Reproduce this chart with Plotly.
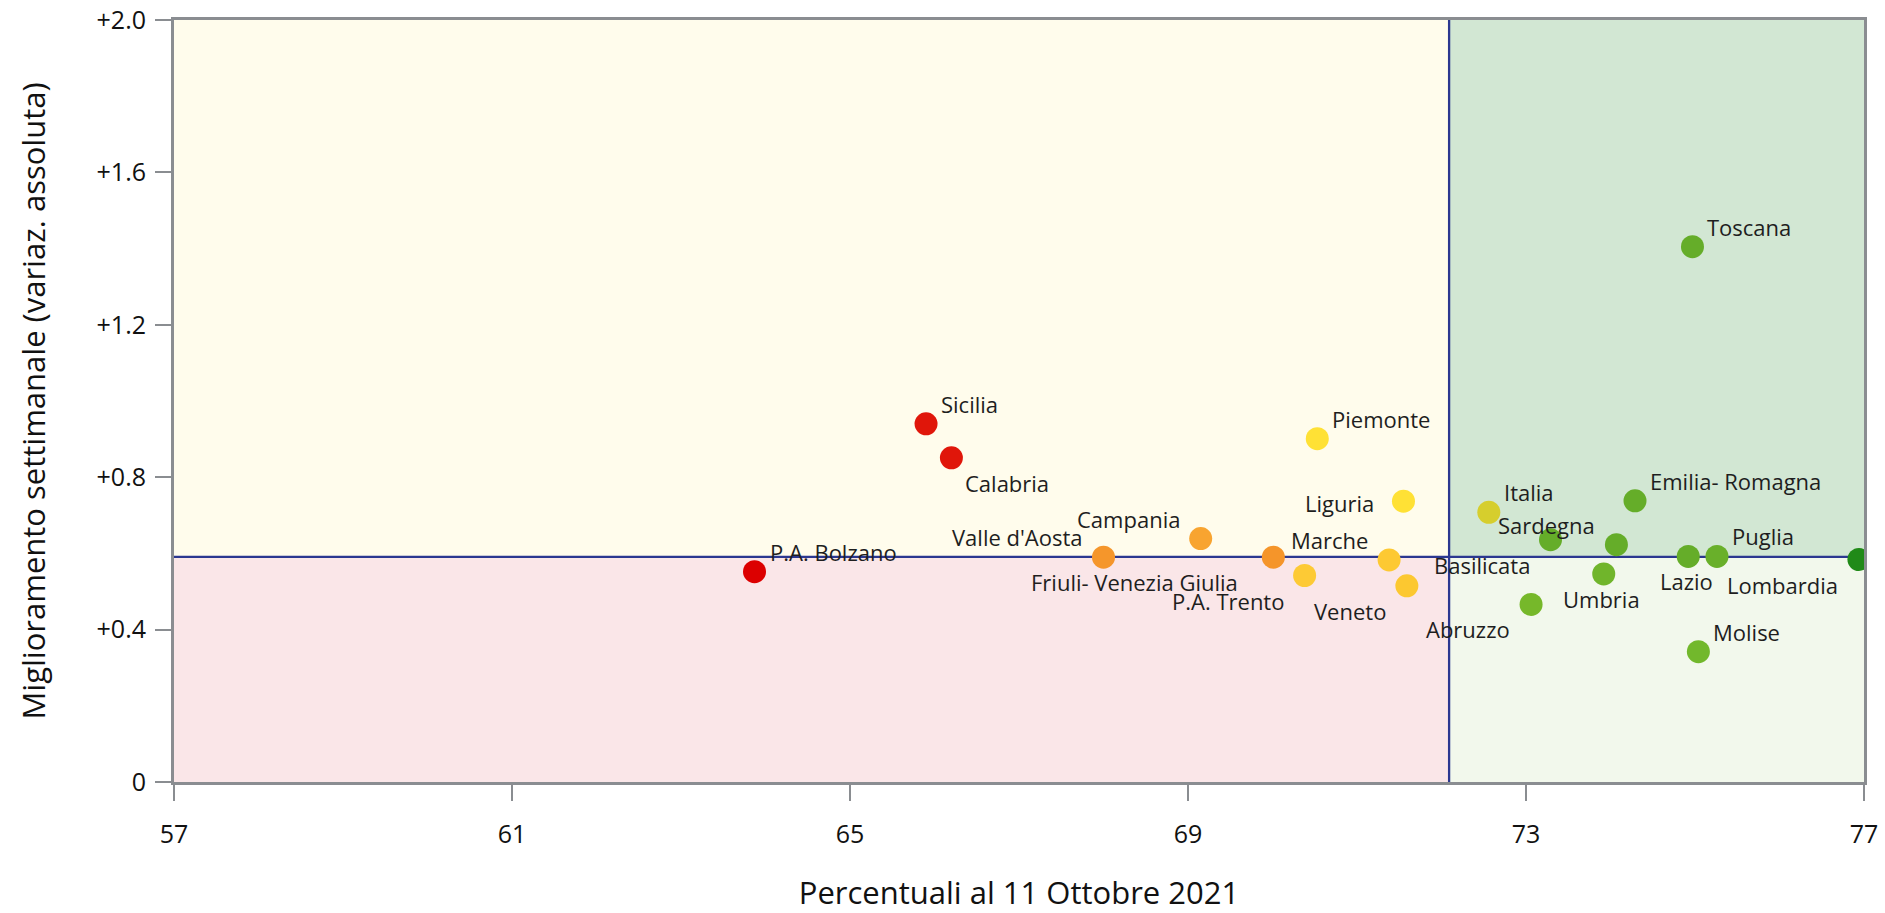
import plotly.graph_objects as go

# ---- data ----
regioni = ["P.A. Bolzano", "Sicilia", "Calabria", "Valle d'Aosta", "Campania",
           "Friuli- Venezia Giulia", "P.A. Trento", "Piemonte", "Marche", "Liguria",
           "Veneto", "Italia", "Abruzzo", "Basilicata", "Umbria", "Sardegna",
           "Emilia- Romagna", "Lazio", "Puglia", "Toscana", "Molise", "Lombardia"]
percentuali = [63.87, 65.90, 66.20, 68.00, 69.15, 70.01, 70.38, 70.53, 71.38, 71.55,
               71.59, 72.56, 73.06, 73.29, 73.92, 74.07, 74.29, 74.92, 75.26, 74.97,
               75.04, 76.94]
miglioramento = [0.552, 0.940, 0.851, 0.590, 0.639, 0.590, 0.542, 0.901, 0.583, 0.737,
                 0.515, 0.708, 0.466, 0.636, 0.546, 0.623, 0.738, 0.592, 0.592, 1.405,
                 0.342, 0.584]
colori = ["#DC0000", "#E0160A", "#E0160A", "#F5962B", "#F8A430", "#F5952A", "#FDCA35",
          "#FFE135", "#FDC932", "#FFE135", "#FCC830", "#D6CE2D", "#76B82A", "#65AD29",
          "#70B52B", "#65AD29", "#65AD29", "#65AD29", "#69B02A", "#65AD29", "#72B82C",
          "#208A18"]
posizioni = ["top right", "top right", "bottom right", "top left", "top left",
             "bottom left", "bottom left", "top right", "top left", "middle left",
             "bottom left", "top right", "bottom left", "bottom left", "bottom center",
             "top left", "top right", "bottom center", "top right", "top right",
             "top right", "bottom left"]

x_ticks = [57, 61, 65, 69, 73, 77]
y_ticks = [0, 0.4, 0.8, 1.2, 1.6, 2.0]
y_tick_labels = ["0", "+0.4", "+0.8", "+1.2", "+1.6", "+2.0"]
x_range = [57, 77]
y_range = [0, 2.0]
soglia_x = 72.09
soglia_y = 0.591

FONT = "Open Sans"

# label placement style (pixel offsets from the marker centre)
stile_etichetta = {
    "top right":     dict(xanchor="left",   xshift=13,  yshift=20),
    "top left":      dict(xanchor="right",  xshift=-19, yshift=20),
    "bottom right":  dict(xanchor="left",   xshift=12,  yshift=-25),
    "bottom left":   dict(xanchor="right",  xshift=-19, yshift=-25),
    "bottom center": dict(xanchor="center", xshift=-2,  yshift=-25),
    "middle left":   dict(xanchor="right",  xshift=-27, yshift=-2),
}
spostamento_extra = {"Friuli- Venezia Giulia": -14}

fig = go.Figure()

# quadrants
quadranti = [
    (x_range[0], soglia_x, soglia_y, y_range[1], "#FFFCEC"),
    (x_range[0], soglia_x, y_range[0], soglia_y, "#FAE6E8"),
    (soglia_x, x_range[1], soglia_y, y_range[1], "#D2E7D3"),
    (soglia_x, x_range[1], y_range[0], soglia_y, "#F2F8EC"),
]
for x0, x1, y0, y1, c in quadranti:
    fig.add_shape(type="rect", xref="x", yref="y", x0=x0, x1=x1, y0=y0, y1=y1,
                  fillcolor=c, line=dict(width=0), layer="below")

fig.add_shape(type="line", xref="x", yref="y", x0=soglia_x, x1=soglia_x,
              y0=y_range[0], y1=y_range[1], line=dict(color="#2B3790", width=2.3),
              layer="below")
fig.add_shape(type="line", xref="x", yref="y", x0=x_range[0], x1=x_range[1],
              y0=soglia_y, y1=soglia_y, line=dict(color="#2B3790", width=2.3),
              layer="below")

fig.add_trace(go.Scatter(
    x=percentuali, y=miglioramento, mode="markers",
    text=regioni,
    marker=dict(size=23, color=colori, line=dict(width=0)),
    cliponaxis=True, hoverinfo="text+x+y", showlegend=False,
))

for nome, xv, yv, pos in zip(regioni, percentuali, miglioramento, posizioni):
    st = dict(stile_etichetta[pos])
    st["xshift"] += spostamento_extra.get(nome, 0)
    fig.add_annotation(x=xv, y=yv, xref="x", yref="y", text=nome, showarrow=False,
                       yanchor="middle", font=dict(family=FONT, size=22, color="#1E1E1E"),
                       **st)

axis_common = dict(
    showgrid=False, zeroline=False, showline=True, linecolor="#8A8D91",
    linewidth=3, mirror=True, ticks="outside", ticklen=16, tickwidth=2,
    tickcolor="#8A8D91", tickfont=dict(family=FONT, size=25, color="#111111"),
    ticklabeloverflow="allow",
)

fig.update_xaxes(range=x_range, tickvals=x_ticks, ticktext=[str(v) for v in x_ticks],
                 title=dict(text="Percentuali al 11 Ottobre 2021",
                            font=dict(family=FONT, size=31, color="#111111"),
                            standoff=49),
                 ticklabelstandoff=12, **axis_common)
fig.update_yaxes(range=y_range, tickvals=y_ticks, ticktext=y_tick_labels,
                 title=dict(text="Miglioramento settimanale (variaz. assoluta)",
                            font=dict(family=FONT, size=31, color="#111111"),
                            standoff=42),
                 ticklabelstandoff=4, **axis_common)

fig.update_layout(
    width=1885, height=913, autosize=False,
    margin=dict(l=174, r=21, t=20, b=131, autoexpand=False),
    paper_bgcolor="white", plot_bgcolor="white",
    font=dict(family=FONT),
)

fig.write_html("out.html", config={"displayModeBar": False},
               post_script="document.body.style.margin='0px'; document.body.style.overflow='hidden';")
